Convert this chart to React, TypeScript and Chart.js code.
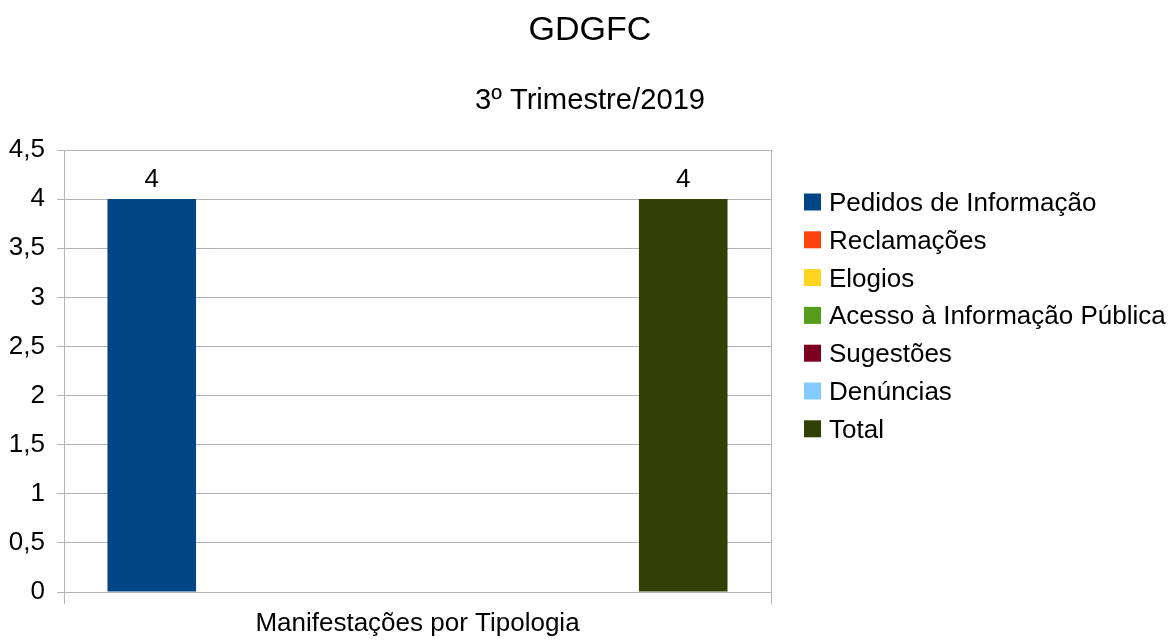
import React, { useEffect, useRef } from "react";
import { Chart, registerables } from "chart.js";

Chart.register(...registerables);

const titleText = "GDGFC";
const subtitleText = "3º Trimestre/2019";
const categories = ["Manifestações por Tipologia"];
const seriesLabels = [
  "Pedidos de Informação",
  "Reclamações",
  "Elogios",
  "Acesso à Informação Pública",
  "Sugestões",
  "Denúncias",
  "Total",
];
const seriesColors = ["#004586", "#ff420e", "#ffd320", "#579d1c", "#7e0021", "#83caff", "#314004"];
const pedidos = [4];
const reclamacoes = [0];
const elogios = [0];
const acesso = [0];
const sugestoes = [0];
const denuncias = [0];
const total = [4];
const seriesValues = [pedidos, reclamacoes, elogios, acesso, sugestoes, denuncias, total];
const yTicks = { min: 0, max: 4.5, step: 0.5 };

const FONT = "'Liberation Sans', Arial, sans-serif";
const GRID = "#b3b3b3";

const fmt = (v: number) => String(v).replace(".", ",");

const labelsPlugin = {
  id: "valueLabels",
  afterDatasetsDraw(chart: any) {
    const ctx = chart.ctx;
    ctx.save();
    ctx.font = `26px ${FONT}`;
    ctx.fillStyle = "#000";
    ctx.textAlign = "center";
    ctx.textBaseline = "alphabetic";
    chart.data.datasets.forEach((ds: any, i: number) => {
      const meta = chart.getDatasetMeta(i);
      meta.data.forEach((bar: any, j: number) => {
        const v = ds.data[j];
        if (!v) return;
        ctx.fillText(fmt(v), bar.x, bar.y - 12);
      });
    });
    ctx.restore();
  },
};

const titlePlugin = {
  id: "customTitle",
  afterDraw(chart: any) {
    const ctx = chart.ctx;
    const cx = chart.width / 2 + 2;
    ctx.save();
    ctx.fillStyle = "#000";
    ctx.textAlign = "center";
    ctx.textBaseline = "alphabetic";
    ctx.font = `34px ${FONT}`;
    ctx.fillText(titleText, cx, 39.5);
    ctx.font = `29.2px ${FONT}`;
    ctx.fillText(subtitleText, cx, 108.5);
    ctx.restore();
  },
};

const legendPlugin = {
  id: "customLegend",
  afterDraw(chart: any) {
    const ctx = chart.ctx;
    const area = chart.chartArea;
    const x0 = area.right + 33;
    const y0 = area.top + 52;
    const step = 37.8;
    ctx.save();
    ctx.font = `26px ${FONT}`;
    ctx.textAlign = "left";
    ctx.textBaseline = "alphabetic";
    chart.data.datasets.forEach((ds: any, i: number) => {
      const cy = y0 + step * i;
      ctx.fillStyle = ds.backgroundColor;
      ctx.fillRect(x0, cy - 8.5, 17, 17);
      ctx.fillStyle = "#000";
      ctx.fillText(ds.label, x0 + 25, cy + 9);
    });
    ctx.restore();
  },
};

export default function App() {
  const ref = useRef<HTMLCanvasElement | null>(null);
  useEffect(() => {
    if (!ref.current) return;
    const chart = new Chart(ref.current, {
      type: "bar",
      data: {
        labels: categories,
        datasets: seriesLabels.map((label, i) => ({
          label,
          data: seriesValues[i],
          backgroundColor: seriesColors[i],
          borderWidth: 0,
          barPercentage: 1,
          categoryPercentage: 0.877,
        })),
      },
      options: {
        animation: false,
        responsive: true,
        maintainAspectRatio: false,
        layout: { padding: { top: 150, left: 0, right: 405, bottom: 0 } },
        plugins: {
          legend: { display: false },
          tooltip: { enabled: false },
          title: { display: false },
          subtitle: { display: false },
        },
        scales: {
          x: {
            grid: { display: true, offset: true, color: GRID, tickLength: 12, lineWidth: 1 },
            border: { display: true, color: GRID, width: 1 },
            ticks: { color: "#000", font: { family: FONT, size: 26 }, padding: 4 },
            afterFit: (scale: any) => {
              scale.height = 49;
            },
          },
          y: {
            min: yTicks.min,
            max: yTicks.max,
            grid: { color: GRID, tickLength: 7, lineWidth: 1 },
            border: { display: true, color: GRID, width: 1 },
            ticks: {
              stepSize: yTicks.step,
              color: "#000",
              font: { family: FONT, size: 26 },
              padding: 12,
              callback: (v: any) => fmt(Number(v)),
            },
            afterFit: (scale: any) => {
              scale.width = 64;
            },
          },
        },
      },
      plugins: [labelsPlugin, titlePlugin, legendPlugin],
    });
    return () => chart.destroy();
  }, []);
  return (
    <div style={{ position: "fixed", left: 0, top: 0, width: 1176, height: 641, background: "#fff" }}>
      <canvas ref={ref} />
    </div>
  );
}
